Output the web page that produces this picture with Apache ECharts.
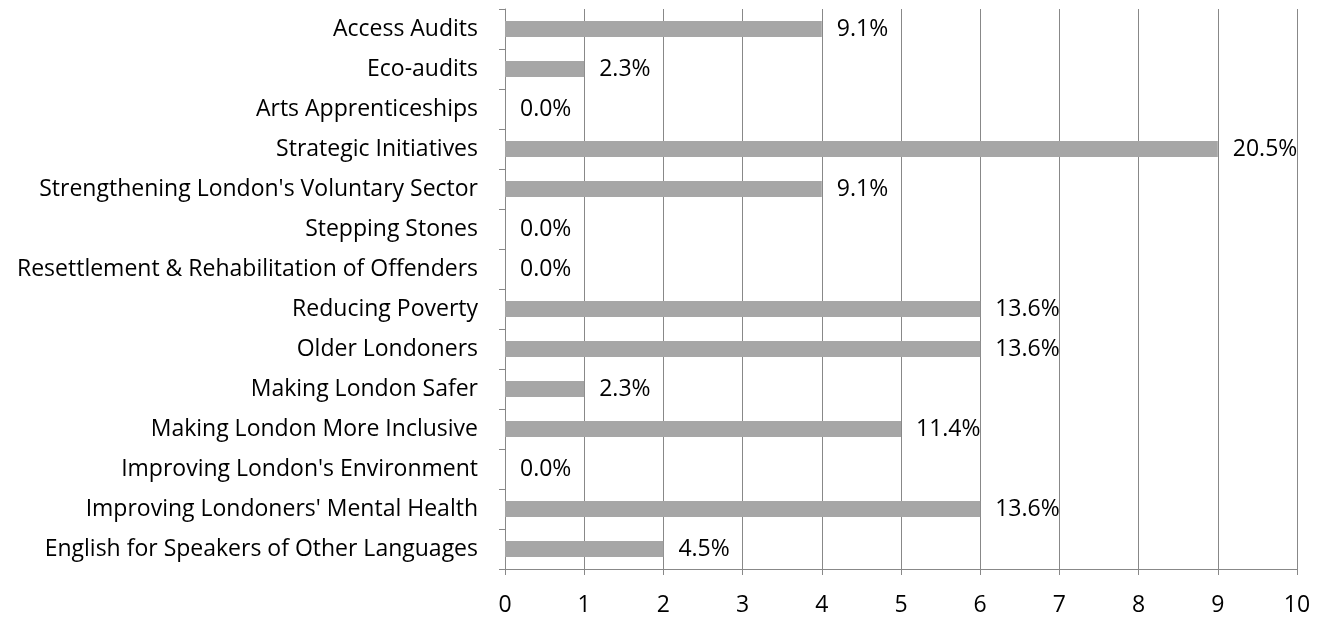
<!DOCTYPE html>
<html>
<head>
<meta charset="utf-8">
<script src="https://cdn.jsdelivr.net/npm/echarts@6/dist/echarts.min.js"></script>
<style>
  html, body { margin: 0; padding: 0; background: #fff; }
  #bar-chart { width: 1329px; height: 617px; }
</style>
</head>
<body>
<div id="bar-chart"></div>
<script>
// categories from bottom to top (category axis draws first item at the bottom)
const categories = [
  'English for Speakers of Other Languages',
  "Improving Londoners' Mental Health",
  "Improving London's Environment",
  'Making London More Inclusive',
  'Making London Safer',
  'Older Londoners',
  'Reducing Poverty',
  'Resettlement & Rehabilitation of Offenders',
  'Stepping Stones',
  "Strengthening London's Voluntary Sector",
  'Strategic Initiatives',
  'Arts Apprenticeships',
  'Eco-audits',
  'Access Audits'
]
const counts = [2, 6, 0, 5, 1, 6, 6, 0, 0, 4, 9, 0, 1, 4]
const pctLabels = ['4.5%', '13.6%', '0.0%', '11.4%', '2.3%', '13.6%', '13.6%', '0.0%', '0.0%', '9.1%', '20.5%', '0.0%', '2.3%', '9.1%']

const font = 'Open Sans'
const fs = 23
let chart = echarts.init(document.getElementById('bar-chart'))
let option = {
  animation: false,
  grid: {
    left: 505,
    right: 32,
    top: 9,
    bottom: 48
  },
  xAxis: {
    type: 'value',
    min: 0,
    max: 10,
    interval: 1,
    axisLine: { show: true, lineStyle: { color: '#888', width: 1 } },
    axisTick: { show: true, length: 6, lineStyle: { color: '#888' } },
    splitLine: { show: true, lineStyle: { color: '#888', width: 1 } },
    axisLabel: {
      color: '#000',
      fontFamily: font,
      fontSize: fs,
      margin: 25
    }
  },
  yAxis: {
    type: 'category',
    data: categories,
    axisLine: { show: true, lineStyle: { color: '#888', width: 1 } },
    axisTick: { show: true, length: 6, lineStyle: { color: '#888' } },
    axisLabel: {
      color: '#000',
      fontFamily: font,
      fontSize: fs,
      margin: 27,
      padding: [2, 0, 0, 0]
    }
  },
  series: [
    {
      type: 'bar',
      data: counts,
      barWidth: 16,
      itemStyle: { color: '#a6a6a6' },
      label: {
        show: true,
        position: 'right',
        distance: 15,
        color: '#000',
        fontFamily: font,
        fontSize: fs,
        padding: [2, 0, 0, 0],
        formatter: function(p) {
          return pctLabels[p.dataIndex]
        }
      }
    }
  ]
}
chart.setOption(option)
</script>
</body>
</html>
